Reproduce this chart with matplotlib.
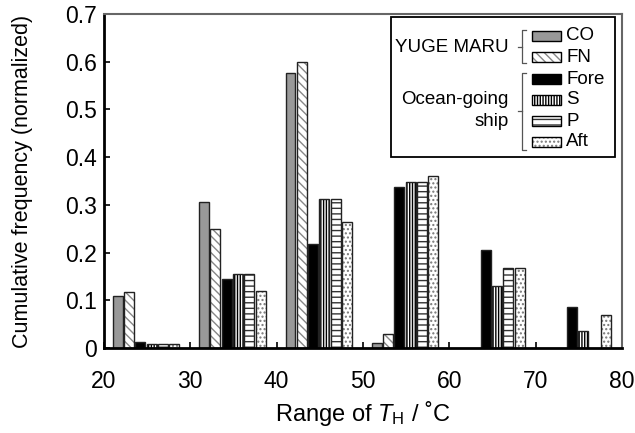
import numpy as np
import matplotlib
matplotlib.use('Agg')
import matplotlib.pyplot as plt
from matplotlib.patches import Rectangle
from matplotlib.lines import Line2D

plt.rcParams['font.family'] = ['Liberation Sans', 'DejaVu Sans']
plt.rcParams['mathtext.fontset'] = 'custom'
plt.rcParams['mathtext.it'] = 'Liberation Sans:italic'
plt.rcParams['mathtext.rm'] = 'Liberation Sans'

# data: cumulative frequency per T_H range (groups start at 20, 30, ... 70)
ranges = [20, 30, 40, 50, 60, 70]
series = ['CO', 'FN', 'Fore', 'S', 'P', 'Aft']
co   = [0.110, 0.305, 0.577, 0.010, 0.0, 0.0]
fn   = [0.118, 0.250, 0.600, 0.030, 0.0, 0.0]
fore = [0.012, 0.145, 0.217, 0.337, 0.205, 0.085]
s    = [0.008, 0.155, 0.312, 0.348, 0.130, 0.035]
p    = [0.008, 0.155, 0.312, 0.348, 0.168, 0.0]
aft  = [0.008, 0.120, 0.265, 0.360, 0.168, 0.070]
values = [co, fn, fore, s, p, aft]

# fill, hatch, hatch colour
styles = {
    'CO':   ('#999999', '', '#999999'),
    'FN':   ('white', '\\\\\\\\', '#888888'),
    'Fore': ('black', '', 'black'),
    'S':    ('white', '||||||', 'black'),
    'P':    ('white', '---', '#333333'),
    'Aft':  ('white', '....', '#777777'),
}

W, H = 635, 433
fig = plt.figure(figsize=(W / 100, H / 100), dpi=100)
ax = fig.add_axes([104 / W, 1 - 348 / H, (622 - 104) / W, (348 - 14) / H])

x0 = np.array(ranges, dtype=float)
step = 1.31
width = 1.15
for i, name in enumerate(series):
    fc, hatch, hc = styles[name]
    xs = x0 + 1.6 + i * step
    vals = np.array(values[i])
    mask = vals > 0
    if hatch:
        ax.bar(xs[mask], vals[mask], width, color=fc, hatch=hatch,
               edgecolor=hc, linewidth=0)
    ax.bar(xs[mask], vals[mask], width, color=fc if not hatch else 'none',
           edgecolor='#222222', linewidth=1.0)

ax.set_xlim(20, 80)
ax.set_ylim(0, 0.7)
ax.set_xticks(range(20, 81, 10))
ax.set_yticks(np.arange(0, 0.71, 0.1))
ax.set_yticklabels(['0', '0.1', '0.2', '0.3', '0.4', '0.5', '0.6', '0.7'])
ax.tick_params(direction='in', labelsize=16.5, length=4, width=1.2)
ax.tick_params(axis='x', pad=16)
ax.tick_params(axis='y', pad=5)
for side in ['left', 'bottom']:
    ax.spines[side].set_linewidth(2)
for side in ['top', 'right']:
    ax.spines[side].set_color('#666666')
    ax.spines[side].set_linewidth(1.5)

ax.set_xlabel('Range of $T_\\mathrm{H}$ / ˚C', fontsize=17, labelpad=4)
ax.set_ylabel('Cumulative frequency (normalized)', fontsize=15.5, labelpad=23)

# hand-made legend with brackets
def fx(x):
    return x / W

def fy(y):
    return 1 - y / H

fig.patches.append(Rectangle((fx(391), fy(157)), fx(615) - fx(391), fy(17) - fy(157),
                             transform=fig.transFigure, facecolor='white',
                             edgecolor='black', linewidth=1.3, zorder=5))
row_y = [36, 57, 79, 100, 121, 142]
for name, y in zip(series, row_y):
    fc, hatch, hc = styles[name]
    if hatch:
        fig.patches.append(Rectangle((fx(532), fy(y + 5)), fx(561) - fx(532), fy(y - 5) - fy(y + 5),
                                     transform=fig.transFigure, facecolor=fc, hatch=hatch,
                                     edgecolor=hc, linewidth=0, zorder=6))
    fig.patches.append(Rectangle((fx(532), fy(y + 5)), fx(561) - fx(532), fy(y - 5) - fy(y + 5),
                                 transform=fig.transFigure, facecolor=fc if not hatch else 'none',
                                 edgecolor='black', linewidth=1.0, zorder=7))
    fig.text(fx(566), fy(y), name, fontsize=13.5, va='center', ha='left', zorder=8)

def bracket(ytop, ybot, ymid):
    xb = fx(522)
    xt = fx(526)
    pts_x = [xt, xb, xb, xt]
    pts_y = [fy(ytop), fy(ytop), fy(ybot), fy(ybot)]
    fig.lines.append(Line2D(pts_x, pts_y, transform=fig.transFigure, color='#555555',
                            linewidth=0.9, zorder=8))
    fig.lines.append(Line2D([fx(518), xb], [fy(ymid), fy(ymid)], transform=fig.transFigure,
                            color='#555555', linewidth=0.9, zorder=8))

bracket(30, 63, 47)
bracket(73, 150, 111)
fig.text(fx(509), fy(47), 'YUGE MARU', fontsize=13.5, ha='right', va='center', zorder=8)
fig.text(fx(509), fy(100), 'Ocean-going', fontsize=13.5, ha='right', va='center', zorder=8)
fig.text(fx(509), fy(122), 'ship', fontsize=13.5, ha='right', va='center', zorder=8)

fig.savefig('out.png', dpi=100)
